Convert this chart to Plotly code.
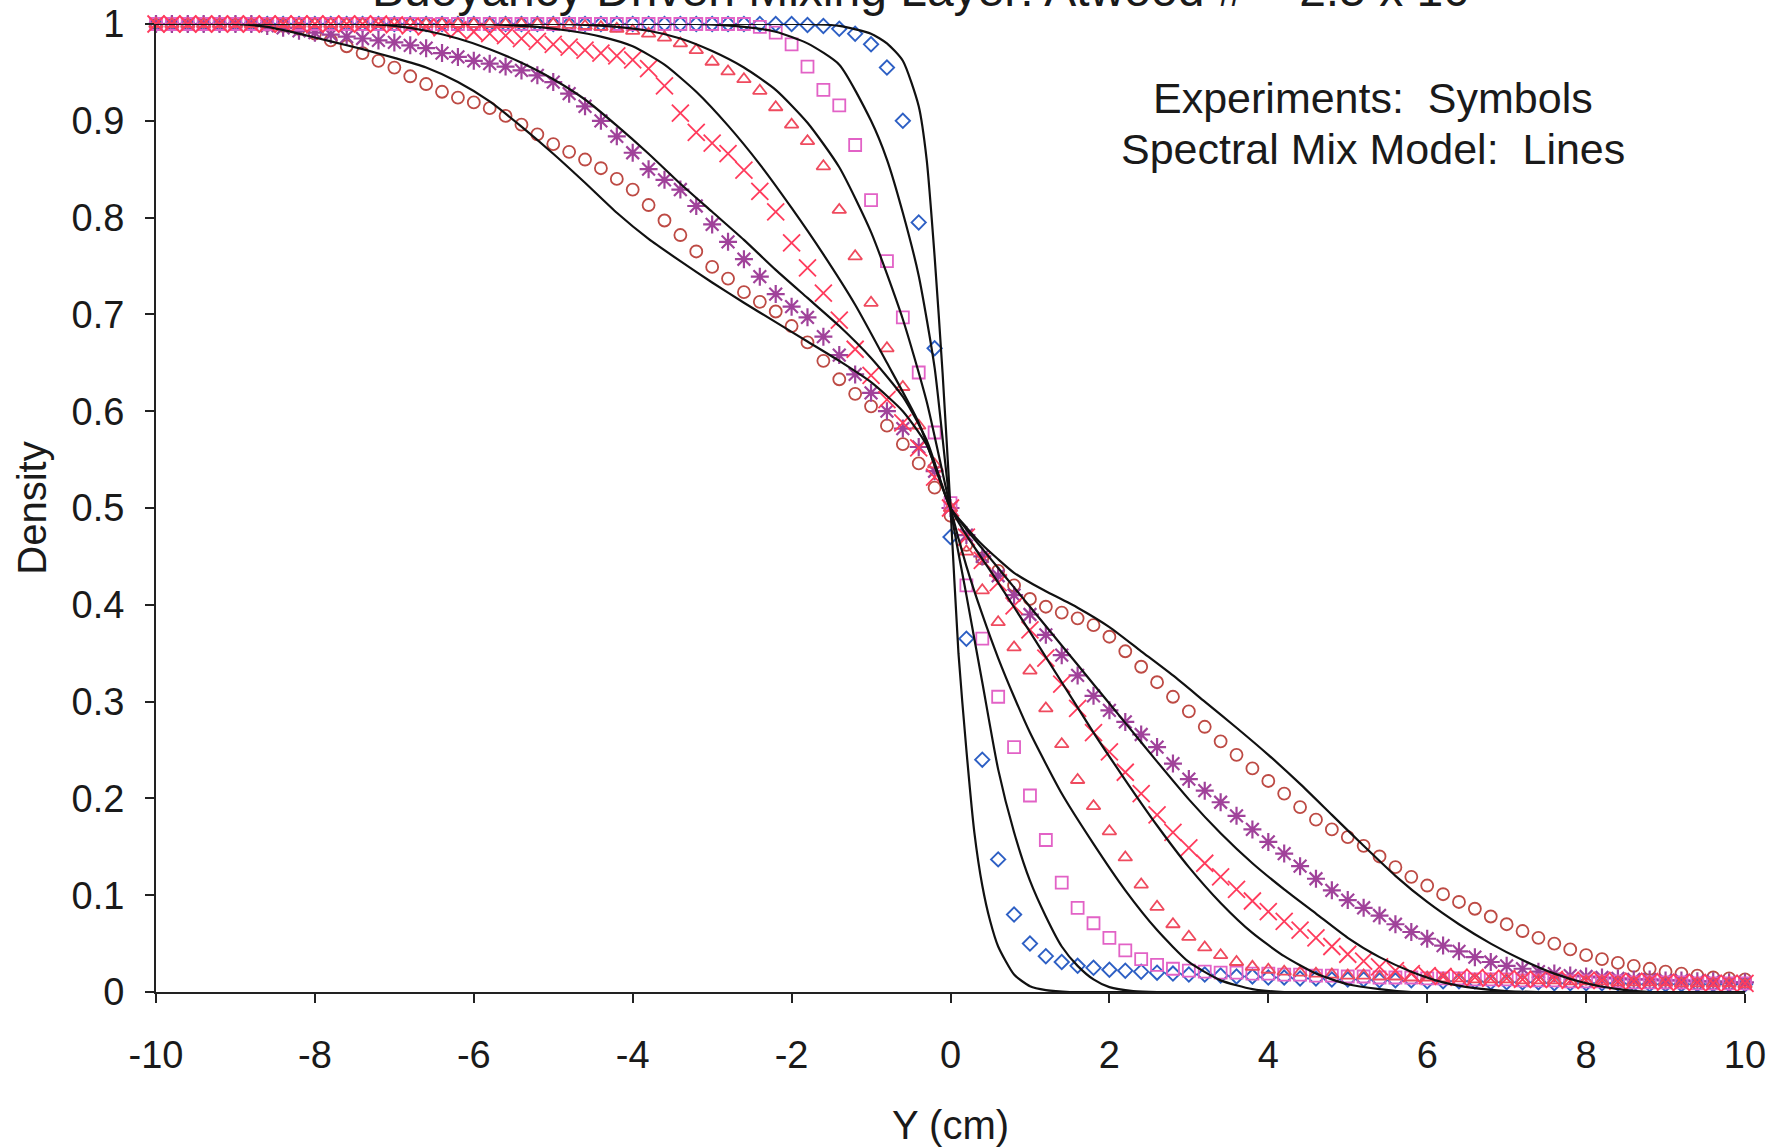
import plotly.graph_objects as go

# ---------------- data ----------------
Y_CM = [
    -10.0, -9.8, -9.6, -9.4, -9.2, -9.0, -8.8, -8.6, -8.4, -8.2,
    -8.0, -7.8, -7.6, -7.4, -7.2, -7.0, -6.8, -6.6, -6.4, -6.2,
    -6.0, -5.8, -5.6, -5.4, -5.2, -5.0, -4.8, -4.6, -4.4, -4.2,
    -4.0, -3.8, -3.6, -3.4, -3.2, -3.0, -2.8, -2.6, -2.4, -2.2,
    -2.0, -1.8, -1.6, -1.4, -1.2, -1.0, -0.8, -0.6, -0.4, -0.2,
    0.0, 0.2, 0.4, 0.6, 0.8, 1.0, 1.2, 1.4, 1.6, 1.8,
    2.0, 2.2, 2.4, 2.6, 2.8, 3.0, 3.2, 3.4, 3.6, 3.8,
    4.0, 4.2, 4.4, 4.6, 4.8, 5.0, 5.2, 5.4, 5.6, 5.8,
    6.0, 6.2, 6.4, 6.6, 6.8, 7.0, 7.2, 7.4, 7.6, 7.8,
    8.0, 8.2, 8.4, 8.6, 8.8, 9.0, 9.2, 9.4, 9.6, 9.8,
    10.0,
]

EXP_CIRCLES = [
    1.0, 1.0, 1.0, 1.0, 1.0, 1.0, 1.0, 0.999, 0.998, 0.995,
    0.990, 0.983, 0.977, 0.970, 0.962, 0.955, 0.946, 0.938, 0.930, 0.924,
    0.919, 0.913, 0.905, 0.896, 0.886, 0.876, 0.868, 0.860, 0.851, 0.840,
    0.829, 0.813, 0.797, 0.782, 0.765, 0.749, 0.737, 0.723, 0.713, 0.703,
    0.688, 0.671, 0.652, 0.633, 0.618, 0.605, 0.585, 0.566, 0.546, 0.521,
    0.492, 0.462, 0.448, 0.435, 0.420, 0.406, 0.398, 0.392, 0.386, 0.379,
    0.367, 0.352, 0.336, 0.320, 0.305, 0.290, 0.274, 0.259, 0.245, 0.231,
    0.218, 0.205, 0.191, 0.178, 0.168, 0.160, 0.151, 0.140, 0.129, 0.119,
    0.110, 0.101, 0.093, 0.086, 0.078, 0.070, 0.063, 0.056, 0.050, 0.044,
    0.038, 0.034, 0.030, 0.027, 0.024, 0.021, 0.019, 0.017, 0.015, 0.014,
    0.013,
]

EXP_ASTERISKS = [
    1.0, 1.0, 1.0, 1.0, 1.0, 1.0, 1.0, 0.998, 0.996, 0.993,
    0.991, 0.989, 0.987, 0.985, 0.983, 0.981, 0.978, 0.975, 0.970, 0.966,
    0.962, 0.959, 0.956, 0.952, 0.947, 0.940, 0.928, 0.915, 0.900, 0.884,
    0.867, 0.850, 0.839, 0.829, 0.812, 0.793, 0.775, 0.757, 0.739, 0.721,
    0.708, 0.697, 0.677, 0.658, 0.638, 0.619, 0.600, 0.582, 0.563, 0.538,
    0.500, 0.472, 0.450, 0.430, 0.410, 0.390, 0.369, 0.348, 0.327, 0.306,
    0.291, 0.279, 0.266, 0.253, 0.236, 0.220, 0.208, 0.196, 0.182, 0.168,
    0.155, 0.143, 0.130, 0.117, 0.105, 0.095, 0.087, 0.079, 0.070, 0.062,
    0.055, 0.048, 0.042, 0.036, 0.031, 0.027, 0.024, 0.021, 0.019, 0.017,
    0.016, 0.015, 0.014, 0.013, 0.013, 0.012, 0.012, 0.011, 0.011, 0.010,
    0.010,
]

EXP_CROSSES = [
    1.0, 1.0, 1.0, 1.0, 1.0, 1.0, 1.0, 1.0, 1.0, 1.0,
    1.0, 1.0, 1.0, 1.0, 1.0, 0.999, 0.998, 0.997, 0.996, 0.994,
    0.992, 0.990, 0.988, 0.985, 0.982, 0.979, 0.976, 0.973, 0.970, 0.967,
    0.963, 0.954, 0.936, 0.908, 0.888, 0.877, 0.866, 0.849, 0.827, 0.806,
    0.774, 0.748, 0.722, 0.694, 0.664, 0.637, 0.612, 0.588, 0.562, 0.532,
    0.500, 0.470, 0.446, 0.423, 0.399, 0.374, 0.345, 0.318, 0.293, 0.268,
    0.248, 0.227, 0.205, 0.183, 0.165, 0.149, 0.133, 0.119, 0.106, 0.094,
    0.083, 0.073, 0.064, 0.056, 0.047, 0.039, 0.032, 0.026, 0.022, 0.019,
    0.017, 0.016, 0.015, 0.015, 0.014, 0.014, 0.013, 0.013, 0.013, 0.012,
    0.012, 0.012, 0.011, 0.011, 0.011, 0.010, 0.010, 0.010, 0.009, 0.009,
    0.009,
]

EXP_TRIANGLES = [
    1.0, 1.0, 1.0, 1.0, 1.0, 1.0, 1.0, 1.0, 1.0, 1.0,
    1.0, 1.0, 1.0, 1.0, 1.0, 1.0, 1.0, 1.0, 1.0, 1.0,
    1.0, 1.0, 1.0, 1.0, 1.0, 1.0, 0.999, 0.998, 0.997, 0.995,
    0.993, 0.990, 0.986, 0.980, 0.973, 0.961, 0.951, 0.943, 0.931, 0.914,
    0.896, 0.879, 0.853, 0.808, 0.760, 0.712, 0.665, 0.625, 0.585, 0.545,
    0.500, 0.455, 0.415, 0.382, 0.356, 0.332, 0.293, 0.256, 0.219, 0.192,
    0.166, 0.139, 0.111, 0.088, 0.070, 0.057, 0.046, 0.038, 0.031, 0.026,
    0.023, 0.021, 0.020, 0.019, 0.018, 0.017, 0.017, 0.016, 0.016, 0.015,
    0.015, 0.014, 0.014, 0.013, 0.013, 0.013, 0.012, 0.012, 0.012, 0.011,
    0.011, 0.011, 0.010, 0.010, 0.010, 0.010, 0.009, 0.009, 0.009, 0.009,
    0.008,
]

EXP_SQUARES = [
    1.0, 1.0, 1.0, 1.0, 1.0, 1.0, 1.0, 1.0, 1.0, 1.0,
    1.0, 1.0, 1.0, 1.0, 1.0, 1.0, 1.0, 1.0, 1.0, 1.0,
    1.0, 1.0, 1.0, 1.0, 1.0, 1.0, 1.0, 1.0, 1.0, 1.0,
    1.0, 1.0, 1.0, 1.0, 1.0, 1.0, 1.0, 1.0, 0.997, 0.991,
    0.979, 0.956, 0.932, 0.916, 0.875, 0.818, 0.755, 0.697, 0.640, 0.578,
    0.505, 0.420, 0.365, 0.305, 0.253, 0.203, 0.157, 0.113, 0.087, 0.071,
    0.056, 0.043, 0.034, 0.028, 0.024, 0.022, 0.021, 0.020, 0.020, 0.019,
    0.019, 0.018, 0.018, 0.017, 0.017, 0.016, 0.016, 0.015, 0.015, 0.015,
    0.014, 0.014, 0.014, 0.013, 0.013, 0.013, 0.012, 0.012, 0.012, 0.011,
    0.011, 0.011, 0.011, 0.010, 0.010, 0.010, 0.010, 0.009, 0.009, 0.009,
    0.009,
]

EXP_DIAMONDS = [
    1.0, 1.0, 1.0, 1.0, 1.0, 1.0, 1.0, 1.0, 1.0, 1.0,
    1.0, 1.0, 1.0, 1.0, 1.0, 1.0, 1.0, 1.0, 1.0, 1.0,
    1.0, 1.0, 1.0, 1.0, 1.0, 1.0, 1.0, 1.0, 1.0, 1.0,
    1.0, 1.0, 1.0, 1.0, 1.0, 1.0, 1.0, 1.0, 1.0, 1.0,
    1.0, 0.999, 0.998, 0.995, 0.990, 0.979, 0.955, 0.900, 0.795, 0.665,
    0.470, 0.365, 0.240, 0.137, 0.080, 0.050, 0.037, 0.031, 0.027, 0.025,
    0.023, 0.022, 0.021, 0.020, 0.019, 0.018, 0.018, 0.017, 0.016, 0.016,
    0.015, 0.015, 0.014, 0.014, 0.013, 0.013, 0.013, 0.012, 0.012, 0.012,
    0.011, 0.011, 0.011, 0.011, 0.010, 0.010, 0.010, 0.010, 0.009, 0.009,
    0.009, 0.009, 0.009, 0.008, 0.008, 0.008, 0.008, 0.008, 0.008, 0.008,
    0.008,
]

# Spectral Mix Model curves (black lines)
MODEL_A_X = [-10, -9.5, -9.0, -8.6, -8.2, -7.8, -7.4, -7.0, -6.6, -6.2, -5.8, -5.4, -5.0,
             -4.6, -4.2, -3.8, -3.4, -3.0, -2.6, -2.2, -1.8, -1.4, -1.0, -0.6, -0.3, 0.0,
             0.2, 0.4, 0.6, 0.8, 1.0, 1.2, 1.6, 2.0, 2.4, 2.8, 3.2, 3.6, 4.0, 4.4, 4.8,
             5.2, 5.6, 6.0, 6.4, 6.8, 7.2, 7.6, 8.0, 8.4, 8.8, 9.4, 10]
MODEL_A_Y = [1.0, 1.0, 1.0, 0.997, 0.990, 0.982, 0.974, 0.965, 0.955, 0.940, 0.920, 0.894, 0.866,
             0.836, 0.805, 0.778, 0.755, 0.733, 0.712, 0.692, 0.672, 0.652, 0.630, 0.600, 0.565, 0.500,
             0.480, 0.462, 0.447, 0.433, 0.423, 0.414, 0.397, 0.377, 0.352, 0.327, 0.300, 0.273, 0.245, 0.215, 0.183,
             0.151, 0.120, 0.093, 0.070, 0.050, 0.033, 0.019, 0.009, 0.003, 0.0, 0.0, 0.0]

MODEL_B_X = [-10, -9.0, -8.0, -7.4, -7.0, -6.6, -6.2, -5.8, -5.4, -5.0, -4.6, -4.2, -3.8, -3.4,
             -3.0, -2.6, -2.2, -1.8, -1.4, -1.0, -0.6, -0.3, 0.0, 0.2, 0.4, 0.6, 0.8, 1.0, 1.4,
             1.8, 2.2, 2.6, 3.0, 3.4, 3.8, 4.2, 4.6, 5.0, 5.4, 5.8, 6.2, 6.6, 7.0, 7.4, 8.0, 9.0, 10]
MODEL_B_Y = [1.0, 1.0, 1.0, 1.0, 0.998, 0.993, 0.985, 0.974, 0.960, 0.943, 0.922, 0.895, 0.866, 0.835,
             0.806, 0.777, 0.746, 0.717, 0.688, 0.655, 0.615, 0.570, 0.500, 0.478, 0.458, 0.438, 0.418, 0.398, 0.358,
             0.318, 0.278, 0.238, 0.199, 0.164, 0.133, 0.106, 0.081, 0.056, 0.036, 0.021, 0.010, 0.004, 0.001, 0.0, 0.0, 0.0, 0.0]

MODEL_C_X = [-10, -9.0, -8.0, -7.0, -6.0, -5.6, -5.2, -4.8, -4.4, -4.0, -3.6, -3.2, -2.8, -2.4,
             -2.0, -1.6, -1.2, -0.8, -0.4, 0.0, 0.2, 0.6, 1.0, 1.4, 1.8, 2.2, 2.6, 3.0, 3.4,
             3.8, 4.2, 4.6, 5.0, 5.4, 5.8, 6.5, 7.5, 8.5, 10]
MODEL_C_Y = [1.0, 1.0, 1.0, 1.0, 1.0, 0.999, 0.997, 0.993, 0.987, 0.977, 0.958, 0.930, 0.895, 0.855,
             0.810, 0.762, 0.710, 0.650, 0.588, 0.500, 0.472, 0.423, 0.372, 0.320, 0.268, 0.219, 0.172, 0.129, 0.092,
             0.061, 0.037, 0.019, 0.008, 0.003, 0.0, 0.0, 0.0, 0.0, 0.0]

MODEL_D_X = [-10, -9.0, -8.0, -7.0, -6.0, -5.0, -4.6, -4.2, -3.8, -3.4, -3.0, -2.6, -2.2, -1.8,
             -1.4, -1.0, -0.6, -0.3, 0.0, 0.2, 0.4, 0.6, 0.8, 1.0, 1.4, 1.8, 2.2, 2.6, 3.0,
             3.4, 3.8, 4.2, 5.0, 6.0, 7.0, 8.0, 9.0, 10]
MODEL_D_Y = [1.0, 1.0, 1.0, 1.0, 1.0, 1.0, 0.999, 0.997, 0.993, 0.985, 0.972, 0.955, 0.932, 0.898,
             0.852, 0.785, 0.695, 0.610, 0.500, 0.440, 0.390, 0.345, 0.305, 0.268, 0.205, 0.153, 0.105, 0.064, 0.031,
             0.012, 0.003, 0.0, 0.0, 0.0, 0.0, 0.0, 0.0, 0.0]

MODEL_E_X = [-10, -9.0, -8.0, -7.0, -6.0, -5.0, -4.0, -3.2, -2.6, -2.2, -1.8, -1.4, -1.0, -0.8,
             -0.6, -0.4, -0.2, 0.0, 0.2, 0.4, 0.6, 0.8, 1.0, 1.2, 1.4, 1.6, 1.8, 2.0, 2.3,
             2.6, 3.2, 4.0, 5.0, 6.0, 7.0, 8.0, 9.0, 10]
MODEL_E_Y = [1.0, 1.0, 1.0, 1.0, 1.0, 1.0, 1.0, 1.0, 0.997, 0.992, 0.980, 0.958, 0.900, 0.860,
             0.805, 0.740, 0.645, 0.500, 0.410, 0.320, 0.230, 0.165, 0.115, 0.078, 0.047, 0.027, 0.013, 0.005, 0.001,
             0.0, 0.0, 0.0, 0.0, 0.0, 0.0, 0.0, 0.0, 0.0]

MODEL_F_X = [-10, -9.0, -8.0, -7.0, -6.0, -5.0, -4.0, -3.0, -2.4, -1.8, -1.4, -1.0, -0.8, -0.6,
             -0.4, -0.3, -0.2, -0.1, 0.0, 0.1, 0.2, 0.3, 0.4, 0.5, 0.6, 0.8, 1.0, 1.2, 1.5,
             1.9, 2.5, 3.0, 4.0, 5.0, 6.0, 7.0, 8.0, 9.0, 10]
MODEL_F_Y = [1.0, 1.0, 1.0, 1.0, 1.0, 1.0, 1.0, 1.0, 1.0, 1.0, 0.998, 0.990, 0.980, 0.962,
             0.915, 0.860, 0.760, 0.640, 0.500, 0.350, 0.250, 0.165, 0.110, 0.073, 0.047, 0.018, 0.006, 0.002, 0.0,
             0.0, 0.0, 0.0, 0.0, 0.0, 0.0, 0.0, 0.0, 0.0, 0.0]

X_TICKS = [-10, -8, -6, -4, -2, 0, 2, 4, 6, 8, 10]
Y_TICKS = [0, 0.1, 0.2, 0.3, 0.4, 0.5, 0.6, 0.7, 0.8, 0.9, 1]
Y_TICK_TEXT = ["0", "0.1", "0.2", "0.3", "0.4", "0.5", "0.6", "0.7", "0.8", "0.9", "1"]

TITLE = "Buoyancy Driven Mixing Layer: Atwood # = 2.5 x 10<sup>-4</sup>"
NOTE_LINE1 = "Experiments:\u00a0\u00a0Symbols"
NOTE_LINE2 = "Spectral Mix Model:\u00a0\u00a0Lines"

# ---------------- figure ----------------
FONT = "Liberation Sans, Arial, Helvetica, sans-serif"
fig = go.Figure()

symbol_series = [
    ("circles", EXP_CIRCLES, "circle-open", 12, "#bd4a44", 1.8),
    ("diamonds", EXP_DIAMONDS, "diamond-open", 11, "#2d5fc4", 1.9),
    ("asterisks", EXP_ASTERISKS, "asterisk-open", 15, "#a0429a", 2.2),
    ("squares", EXP_SQUARES, "square-open", 12, "#e262c6", 1.8),
    ("triangles", EXP_TRIANGLES, "triangle-up-open", 12, "#ef4a5e", 1.8),
    ("crosses", EXP_CROSSES, "x-thin-open", 17, "#ff3b5c", 1.8),
]
for name, ys, sym, size, color, lw in symbol_series:
    fig.add_trace(go.Scatter(
        x=Y_CM, y=ys, mode="markers", name=name, cliponaxis=False,
        marker=dict(symbol=sym, size=size, color=color,
                    line=dict(color=color, width=lw)),
    ))

for mx, my in [(MODEL_A_X, MODEL_A_Y), (MODEL_B_X, MODEL_B_Y), (MODEL_C_X, MODEL_C_Y),
               (MODEL_D_X, MODEL_D_Y), (MODEL_E_X, MODEL_E_Y), (MODEL_F_X, MODEL_F_Y)]:
    fig.add_trace(go.Scatter(
        x=mx, y=my, mode="lines", cliponaxis=False,
        line=dict(color="#111111", width=2.2, shape="spline", smoothing=0.6),
    ))

fig.update_layout(
    width=1771, height=1148,
    margin=dict(l=156, r=26, t=24, b=156),
    paper_bgcolor="white", plot_bgcolor="white",
    showlegend=False,
    font=dict(family=FONT, color="#1a1a1a", size=38),
    xaxis=dict(
        range=[-10, 10], tickvals=X_TICKS, ticktext=[str(v) for v in X_TICKS],
        showgrid=False, zeroline=False, showline=True, linecolor="#222222", linewidth=2,
        ticks="outside", ticklen=9, tickwidth=2, tickcolor="#222222",
        tickfont=dict(size=38), ticklabelstandoff=19, automargin=False,
        title=dict(text="Y (cm)", font=dict(size=40), standoff=36),
    ),
    yaxis=dict(
        range=[0, 1], tickvals=Y_TICKS, ticktext=Y_TICK_TEXT,
        showgrid=False, zeroline=False, showline=True, linecolor="#222222", linewidth=2,
        ticks="outside", ticklen=9, tickwidth=2, tickcolor="#222222",
        tickfont=dict(size=38), ticklabelstandoff=13, automargin=False,
        title=dict(text="Density", font=dict(size=40), standoff=13),
    ),
    annotations=[
        dict(text=NOTE_LINE1, xref="paper", yref="paper", x=(1373 - 156) / 1589, y=1 - (98 - 24) / 968,
             xanchor="center", yanchor="middle", showarrow=False,
             font=dict(size=43, family=FONT, color="#1a1a1a")),
        dict(text=NOTE_LINE2, xref="paper", yref="paper", x=(1373 - 156) / 1589, y=1 - (149 - 24) / 968,
             xanchor="center", yanchor="middle", showarrow=False,
             font=dict(size=43, family=FONT, color="#1a1a1a")),
        dict(text=TITLE, xref="paper", yref="paper", x=(936 - 156) / 1589, y=1,
             xanchor="center", yanchor="middle", yshift=38, showarrow=False,
             font=dict(size=48, family=FONT, color="#1a1a1a")),
    ],
)

fig.write_html("out.html", config={"displayModeBar": False},
               post_script="document.body.style.margin='0';")
